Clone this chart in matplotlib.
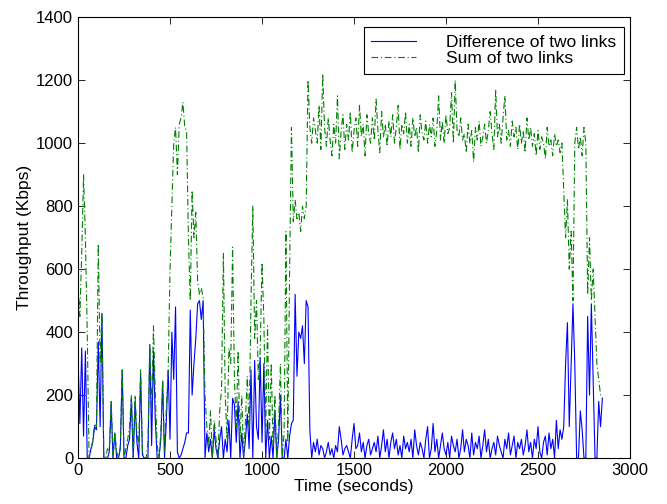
import numpy as np
import matplotlib
matplotlib.use("Agg")
import matplotlib.pyplot as plt

# sample times every 10 s, 0..2850
time_s = np.arange(0, 2851, 10)

# difference of two links (Kbps), one row per 100 s
diff_kbps = [
    320, 110, 350, 70, 340, 0, 0, 30, 50, 100,
    90, 370, 100, 460, 0, 0, 0, 20, 175, 0,
    80, 0, 0, 30, 280, 0, 0, 40, 60, 190,
    0, 180, 50, 0, 270, 10, 0, 0, 0, 360,
    40, 340, 120, 0, 0, 60, 240, 0, 120, 280,
    60, 400, 250, 480, 20, 0, 10, 30, 50, 80,
    80, 470, 200, 300, 380, 490, 500, 440, 500, 0,
    80, 20, 60, 0, 90, 30, 0, 60, 100, 0,
    60, 20, 120, 0, 190, 170, 50, 180, 0, 80,
    0, 60, 140, 30, 280, 0, 310, 100, 60, 320,
    50, 300, 0, 120, 0, 70, 0, 150, 0, 60,
    200, 0, 0, 60, 0, 70, 110, 120, 520, 260,
    400, 380, 420, 300, 500, 480, 90, 0, 50, 20,
    60, 10, 40, 30, 0, 20, 50, 10, 30, 0,
    40, 20, 100, 60, 10, 30, 40, 20, 0, 60,
    110, 30, 40, 80, 20, 50, 0, 40, 60, 10,
    30, 50, 20, 70, 0, 40, 90, 20, 60, 0,
    50, 80, 30, 60, 10, 40, 0, 70, 30, 50,
    20, 60, 0, 90, 40, 10, 50, 30, 0, 60,
    100, 0, 30, 110, 20, 60, 0, 40, 80, 30,
    10, 50, 0, 70, 40, 20, 60, 0, 30, 90,
    20, 60, 40, 0, 80, 10, 50, 30, 70, 0,
    40, 90, 20, 60, 0, 30, 50, 10, 70, 40,
    20, 0, 60, 30, 80, 10, 40, 70, 0, 50,
    30, 60, 10, 40, 90, 20, 50, 0, 60, 30,
    100, 20, 0, 50, 70, 10, 80, 30, 60, 0,
    120, 30, 90, 60, 100, 300, 430, 100, 300, 490,
    300, 0, 0, 150, 90, 0, 0, 450, 200, 490,
    250, 0, 0, 180, 100, 190,
]

# sum of two links (Kbps)
sum_kbps = [
    550, 450, 650, 900, 700, 400, 0, 20, 60, 110,
    100, 680, 300, 460, 0, 0, 30, 20, 180, 0,
    80, 20, 0, 40, 280, 0, 30, 60, 100, 200,
    0, 200, 80, 40, 280, 20, 0, 0, 50, 360,
    150, 420, 200, 40, 0, 80, 250, 20, 160, 280,
    600, 800, 1000, 1050, 900, 1060, 1080, 1130, 1050, 1040,
    700, 500, 850, 700, 780, 560, 520, 540, 510, 200,
    100, 40, 150, 0, 120, 60, 0, 150, 220, 650,
    200, 60, 350, 300, 670, 250, 100, 340, 60, 200,
    0, 120, 260, 90, 500, 800, 380, 500, 250, 340,
    620, 440, 100, 420, 60, 300, 40, 200, 0, 100,
    300, 0, 80, 720, 50, 600, 1050, 750, 820, 760,
    780, 720, 800, 760, 800, 1200, 1050, 1000, 1080, 1040,
    1000, 1120, 980, 1220, 1050, 990, 1080, 1010, 960, 1060,
    1000, 1150, 950, 1040, 1090, 980, 1060, 1010, 1100, 970,
    1040, 1080, 990, 1120, 1020, 1060, 960, 1090, 1030, 1000,
    1080, 1010, 1140, 1040, 970, 1100, 1020, 1060, 990, 1070,
    1020, 1090, 1000, 1050, 1120, 980, 1060, 1030, 1100, 1000,
    1060, 990, 1080, 1020, 1050, 970, 1090, 1030, 1010, 1070,
    1000, 1060, 1020, 1080, 990, 1040, 1150, 1010, 1070, 1000,
    1090, 1030, 1050, 1160, 1000, 1200, 1040, 1020, 1080, 1010,
    1030, 970, 1060, 1000, 1040, 940, 1050, 1010, 1070, 990,
    1020, 1060, 1000, 1040, 1100, 1030, 980, 1170, 1020, 1060,
    1000, 1080, 1150, 1010, 1040, 990, 1070, 1020, 1050, 980,
    1060, 1000, 1040, 970, 1080, 1010, 1050, 990, 1030, 960,
    1040, 980, 1020, 1000, 950, 1050, 990, 1010, 960, 1030,
    990, 1010, 970, 1000, 850, 700, 820, 600, 720, 500,
    1000, 1050, 980, 1020, 960, 1050, 1000, 520, 700, 500,
    600, 450, 300, 250, 200, 190,
]

x_ticks = [0, 500, 1000, 1500, 2000, 2500, 3000]
y_ticks = [0, 200, 400, 600, 800, 1000, 1200, 1400]

plt.rcParams["font.family"] = ["Liberation Sans", "DejaVu Sans"]
plt.rcParams["font.size"] = 12

fig = plt.figure(figsize=(6.67, 5.04), dpi=100)
ax = fig.add_axes([0.117, 0.091, 0.8275, 0.875])

ax.plot(time_s, diff_kbps, color="#0000ff", linewidth=0.8, label="Difference of two links")
ax.plot(time_s, sum_kbps, color="#008000", linewidth=0.8, linestyle=(0, (6, 2.5, 1, 2.5)),
        label="Sum of two links")

ax.set_xlim(0, 3000)
ax.set_ylim(0, 1400)
ax.set_xticks(x_ticks)
ax.set_yticks(y_ticks)
ax.tick_params(direction="in", top=True, right=True, length=5, width=0.6, labelsize=12)
for sp in ax.spines.values():
    sp.set_linewidth(0.8)

ax.set_xlabel("Time (seconds)", fontsize=12.5, labelpad=1)
ax.set_ylabel("Throughput (Kbps)", fontsize=12.5, labelpad=3)

leg = ax.legend(loc="upper right", fontsize=12.5, fancybox=False, framealpha=1,
                edgecolor="black", handlelength=2.6, borderpad=0.45,
                labelspacing=0.05, handletextpad=1.7, borderaxespad=0,
                bbox_to_anchor=(0.989, 0.977))
leg.get_frame().set_linewidth(0.8)

fig.savefig("out.png", dpi=100)
